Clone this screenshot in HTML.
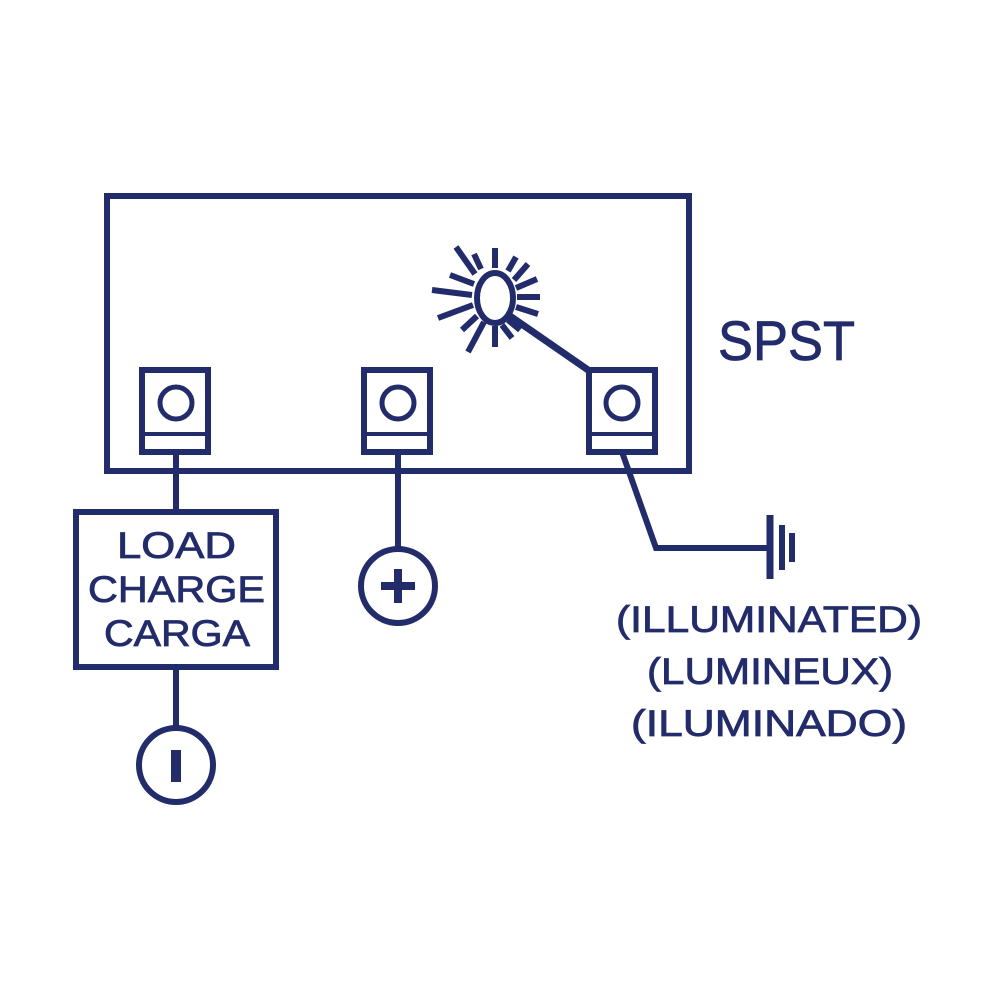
<!DOCTYPE html>
<html><head><meta charset="utf-8"><style>
html,body{margin:0;padding:0;background:#fff;}
svg{display:block;}
text{font-family:"Liberation Sans",sans-serif;fill:#232c6a;stroke:#232c6a;stroke-width:0.8;}
</style></head><body>
<svg width="1000" height="1000" viewBox="0 0 1000 1000" xmlns="http://www.w3.org/2000/svg">
<g stroke="#232c6a" stroke-width="6" fill="none">
<rect x="107" y="196" width="582" height="275"/>
<rect x="142" y="370" width="66" height="82" fill="#fff"/>
<line x1="142" y1="434" x2="208" y2="434" stroke-width="4"/>
<circle cx="176" cy="403" r="16" stroke-width="5"/>
<rect x="364" y="370" width="66" height="82" fill="#fff"/>
<line x1="364" y1="434" x2="430" y2="434" stroke-width="4"/>
<circle cx="398" cy="403" r="16" stroke-width="5"/>
<rect x="589" y="370" width="66" height="82" fill="#fff"/>
<line x1="589" y1="434" x2="655" y2="434" stroke-width="4"/>
<circle cx="622" cy="403" r="16" stroke-width="5"/>
<ellipse cx="495" cy="298" rx="18" ry="25"/>
<line x1="510" y1="316" x2="591" y2="372" stroke-width="7"/>
<g stroke-width="6">
<line x1="475" y1="274" x2="456" y2="247"/>
<line x1="481" y1="269" x2="474" y2="254"/>
<line x1="495" y1="268" x2="495" y2="248"/>
<line x1="508" y1="271" x2="516" y2="257"/>
<line x1="514" y1="280" x2="528" y2="264"/>
<line x1="516" y1="288" x2="537" y2="279"/>
<line x1="517" y1="297" x2="540" y2="297"/>
<line x1="516" y1="307" x2="538" y2="314"/>
<line x1="508" y1="320" x2="520" y2="330"/>
<line x1="502" y1="325" x2="512" y2="338"/>
<line x1="495" y1="326" x2="495" y2="347"/>
<line x1="484" y1="322" x2="468" y2="352"/>
<line x1="477" y1="316" x2="462" y2="330"/>
<line x1="473" y1="305" x2="438" y2="318"/>
<line x1="472" y1="295" x2="432" y2="290"/>
<line x1="474" y1="284" x2="450" y2="275"/>
</g>
<line x1="176" y1="452" x2="176" y2="512"/>
<line x1="176" y1="667" x2="176" y2="728"/>
<line x1="398" y1="452" x2="398" y2="549"/>
<polyline points="622,452 656,548 770,548"/>
<line x1="770" y1="515" x2="770" y2="579" stroke-width="7"/>
<line x1="782" y1="525" x2="782" y2="570" stroke-width="6"/>
<line x1="792" y1="533" x2="792" y2="562" stroke-width="6"/>
<rect x="76" y="512" width="200" height="155"/>
<circle cx="398" cy="586" r="37"/>
<circle cx="176" cy="765" r="37"/>
</g>
<rect x="381" y="582" width="34" height="8" fill="#232c6a"/>
<rect x="394" y="569" width="8" height="34" fill="#232c6a"/>
<rect x="171" y="750" width="10" height="32" fill="#232c6a"/>
<text x="117" y="558" font-size="37" textLength="119" lengthAdjust="spacingAndGlyphs">LOAD</text>
<text x="88" y="602" font-size="37" textLength="177" lengthAdjust="spacingAndGlyphs">CHARGE</text>
<text x="104" y="646" font-size="37" textLength="146" lengthAdjust="spacingAndGlyphs">CARGA</text>
<text x="718" y="360" font-size="56" textLength="137" lengthAdjust="spacingAndGlyphs">SPST</text>
<text x="616" y="632" font-size="37" textLength="306" lengthAdjust="spacingAndGlyphs">(ILLUMINATED)</text>
<text x="647" y="684" font-size="37" textLength="246" lengthAdjust="spacingAndGlyphs">(LUMINEUX)</text>
<text x="631" y="736" font-size="37" textLength="276" lengthAdjust="spacingAndGlyphs">(ILUMINADO)</text>
</svg>
</body></html>
